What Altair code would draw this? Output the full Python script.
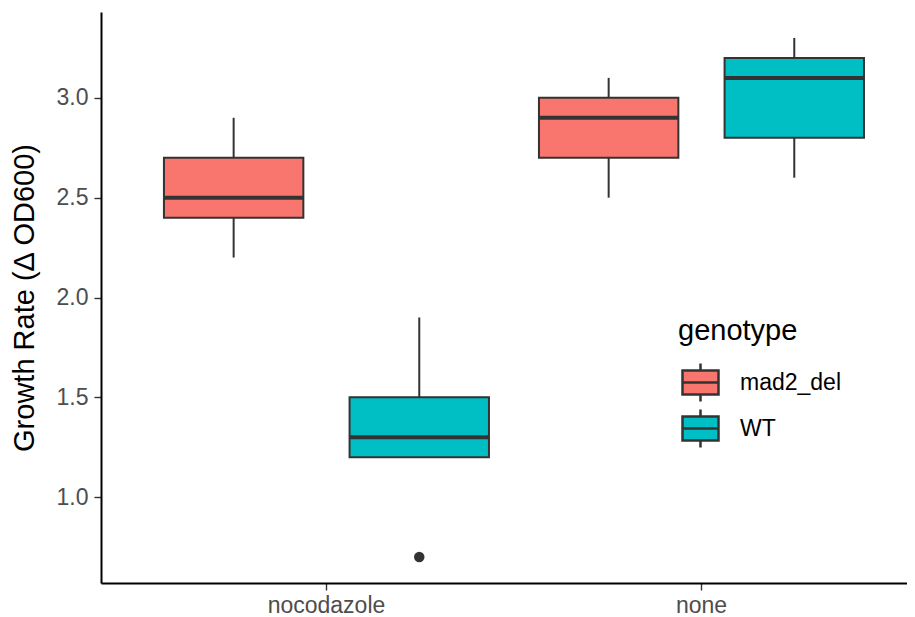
import altair as alt
import pandas as pd

treatment = ["nocodazole", "nocodazole", "none", "none"]
genotype = ["mad2_del", "WT", "mad2_del", "WT"]
whisker_low = [2.2, 1.2, 2.5, 2.6]
q1 = [2.4, 1.2, 2.7, 2.8]
median = [2.5, 1.3, 2.9, 3.1]
q3 = [2.7, 1.5, 3.0, 3.2]
whisker_high = [2.9, 1.9, 3.1, 3.3]

out_treatment = ["nocodazole"]
out_genotype = ["WT"]
out_value = [0.7]

genotypes = ["mad2_del", "WT"]
treatments = ["nocodazole", "none"]
colors = ["#F8766D", "#00BFC4"]
y_ticks = [1.0, 1.5, 2.0, 2.5, 3.0]

df = pd.DataFrame({
    "treatment": treatment, "genotype": genotype,
    "lo": whisker_low, "q1": q1, "med": median, "q3": q3, "hi": whisker_high,
})
dout = pd.DataFrame({"treatment": out_treatment, "genotype": out_genotype, "value": out_value})

FONT = "Liberation Sans"
DARK = "#333333"

x_enc = alt.X("treatment:N", sort=treatments,
              scale=alt.Scale(domain=treatments, paddingInner=0.1333, paddingOuter=0.1413, align=0.594),
              axis=alt.Axis(title=None, labelAngle=0, labelFontSize=23, labelColor="#4D4D4D",
                            labelFont=FONT, tickColor=DARK, tickSize=7, tickWidth=1.4, labelPadding=4,
                            domainColor="black", domainWidth=2, grid=False))
xo_enc = alt.XOffset("genotype:N", sort=genotypes,
                     scale=alt.Scale(domain=genotypes, paddingInner=0.249, paddingOuter=0))
y_scale = alt.Scale(domain=[0.57, 3.43], nice=False, zero=False)
y_axis = alt.Axis(title="Growth Rate (Δ OD600)", values=y_ticks, format=".1f",
                  labelFontSize=23, labelColor="#4D4D4D", labelFont=FONT, titleFont=FONT,
                  titleFontSize=29, titleFontWeight="normal", titleColor="black",
                  tickColor=DARK, tickSize=7, tickWidth=1.4, labelPadding=6, titlePadding=17,
                  domainColor="black", domainWidth=2, grid=False)

base = alt.Chart(df)

whisk = base.mark_rule(color=DARK, strokeWidth=2).encode(
    x=x_enc, xOffset=xo_enc,
    y=alt.Y("lo:Q", scale=y_scale, axis=y_axis), y2="hi:Q")

box_path = "M-1,-0.667H1V0.667H-1Z M-1,0H1 M0,-0.667V-1.05 M0,0.667V1.05"

box = base.mark_bar(stroke=DARK, strokeWidth=2).encode(
    x=x_enc, xOffset=xo_enc,
    y=alt.Y("q1:Q", scale=y_scale), y2="q3:Q",
    fill=alt.Fill("genotype:N", sort=genotypes,
                  scale=alt.Scale(domain=genotypes, range=colors),
                  legend=alt.Legend(title="genotype", orient="none", legendX=577, legendY=305,
                                    symbolType=box_path, symbolSize=1296, symbolOffset=3,
                                    symbolStrokeColor=DARK, symbolStrokeWidth=2.5,
                                    symbolOpacity=1,
                                    titleFontSize=29, titleFont=FONT, titleFontWeight="normal",
                                    titleColor="black", titlePadding=17,
                                    labelFontSize=23, labelFont=FONT, labelColor="black",
                                    labelOffset=20, rowPadding=-3, padding=0)))

med = base.mark_tick(color=DARK, thickness=4, size=139, orient="horizontal", opacity=1).encode(
    x=x_enc, xOffset=xo_enc, y=alt.Y("med:Q", scale=y_scale))

outl = alt.Chart(dout).mark_point(filled=True, color=DARK, size=110, opacity=1).encode(
    x=x_enc, xOffset=xo_enc, y=alt.Y("value:Q", scale=y_scale))

chart = alt.layer(whisk, box, med, outl).properties(
    width=806, height=571, autosize="none",
    padding={"left": 93, "top": 4, "right": 0, "bottom": 36},
).configure(font=FONT, view=alt.ViewConfig(stroke=None))

chart.save("out.html", embed_options={"renderer": "svg", "actions": False})
